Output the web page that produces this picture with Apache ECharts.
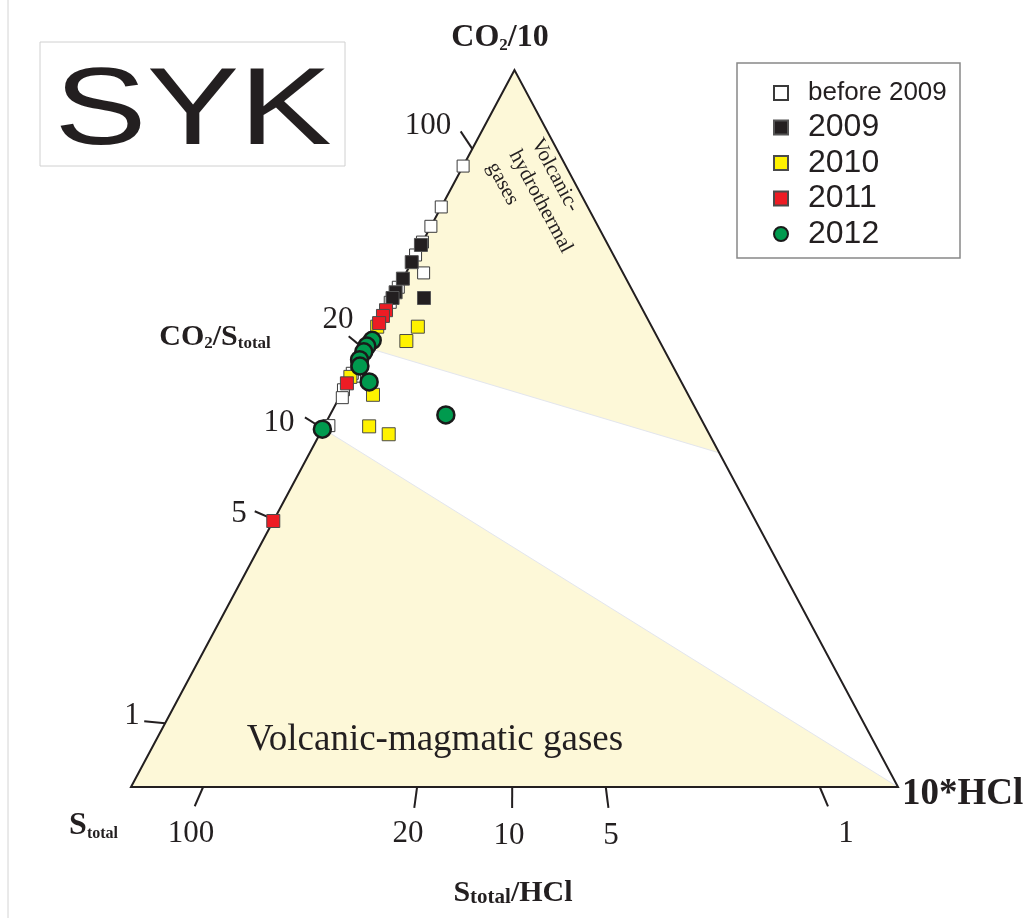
<!DOCTYPE html>
<html>
<head>
<meta charset="utf-8">
<title>SYK ternary diagram</title>
<script src="https://cdn.jsdelivr.net/npm/echarts@6/dist/echarts.min.js"></script>
<style>
  html, body { margin: 0; padding: 0; background: #fff; }
  #chart { width: 1030px; height: 918px; }
</style>
</head>
<body>
<div id="chart"></div>
<script>
// compositions, [CO2/10, Stotal, 10*HCl] in %
const before2009 = [
  [86.6, 13.4, 0], [80.9, 19.1, 0], [78.2, 21.8, 0], [76.0, 24.0, 0], [74.2, 25.8, 0],
  [71.7, 26.0, 2.3], [69.7, 30.3, 0], [67.6, 32.4, 0], [57.3, 42.2, 0.5], [57.7, 42.3, 0],
  [55.4, 44.6, 0], [54.3, 45.3, 0.4], [50.4, 49.0, 0.6]
];
const year2009 = [
  [75.6, 24.4, 0], [73.2, 26.8, 0], [70.9, 29.1, 0], [69.0, 31.0, 0], [68.2, 31.8, 0],
  [68.2, 27.7, 4.1], [59.0, 41.0, 0]
];
const year2010 = [
  [64.2, 35.8, 0], [64.2, 30.5, 5.3], [62.2, 33.0, 4.8], [57.2, 42.8, 0],
  [54.7, 41.1, 4.2], [50.3, 43.8, 5.9], [49.2, 41.8, 9.0]
];
const year2011 = [
  [66.5, 33.5, 0], [65.7, 34.3, 0], [64.7, 35.3, 0], [56.3, 43.7, 0], [37.1, 62.9, 0]
];
const year2012 = [
  [62.3, 37.4, 0.3], [61.5, 38.5, 0], [60.7, 39.3, 0], [59.6, 40.4, 0], [58.7, 40.8, 0.5],
  [56.5, 40.7, 2.8], [51.9, 33.0, 15.1], [49.9, 50.1, 0]
];

// ratio ticks: CO2/Stotal along the left edge, Stotal/HCl along the base
const leftTickLabels = ['100', '20', '10', '5', '1'];
const leftTickCO2 = [89.0, 61.0, 50.0, 37.3, 8.9];
const baseTickLabels = ['100', '20', '10', '5', '1'];
const baseTickHCl = [9.4, 37.3, 49.7, 61.9, 89.8];

// fields
const hydrothermalField = [[100, 0, 0], [61.3, 38.7, 0], [46.6, 0, 53.4]];
const magmaticField = [[50, 50, 0], [0, 100, 0], [0, 0, 100]];
const triangle = [[100, 0, 0], [0, 100, 0], [0, 0, 100]];

const ink = '#231f20';
const serif = 'Liberation Serif';

function toXY(p) {
  const s = p[0] + p[1] + p[2];
  const a = p[0] / s, c = p[2] / s;
  return [c + a / 2, a];
}

const fields = [hydrothermalField, magmaticField];

// tick data: edge point + opposite vertex (tick runs away from it)
const tickData = [];
leftTickCO2.forEach(function (a) {
  const p = toXY([a, 100 - a, 0]);
  const v = toXY([0, 0, 100]);
  tickData.push([p[0], p[1], v[0], v[1]]);
});
baseTickHCl.forEach(function (c) {
  const p = toXY([0, 100 - c, c]);
  const v = toXY([100, 0, 0]);
  tickData.push([p[0], p[1], v[0], v[1]]);
});

function txt(x, y, text, style) {
  return {
    type: 'text', x: x, y: y, z: 100,
    style: Object.assign({ text: text, fill: ink, align: 'center', verticalAlign: 'middle' }, style)
  };
}

const tickFont = { fontFamily: serif, fontSize: 31 };
const titleRich = function (big, small) {
  return {
    a: { fontFamily: serif, fontWeight: 'bold', fontSize: big, lineHeight: big, fill: ink },
    s: { fontFamily: serif, fontWeight: 'bold', fontSize: small, lineHeight: small, verticalAlign: 'bottom', fill: ink }
  };
};

const chart = echarts.init(document.getElementById('chart'));

chart.setOption({
  animation: false,
  backgroundColor: '#fff',
  textStyle: { fontFamily: serif },
  grid: { left: 131, right: 132, top: 70, bottom: 131 },
  xAxis: { type: 'value', min: 0, max: 1, show: false },
  yAxis: { type: 'value', min: 0, max: 1, show: false },
  legend: {
    orient: 'vertical',
    left: 768,
    top: 73,
    itemWidth: 14,
    itemHeight: 14,
    itemGap: 3.5,
    selectedMode: false,
    textStyle: { fontFamily: 'Liberation Sans', fontSize: 32, lineHeight: 30, color: ink, padding: [0, 0, 0, 15] },
    data: [
      { name: 'before 2009', textStyle: { fontSize: 26 } },
      '2009', '2010', '2011', '2012'
    ]
  },
  series: [
    {
      type: 'custom',
      name: 'fields',
      clip: false,
      silent: true,
      z: 1,
      data: [0, 1],
      renderItem: function (params, api) {
        const pts = fields[params.dataIndex].map(function (p) { return api.coord(toXY(p)); });
        return {
          type: 'polygon',
          shape: { points: pts },
          style: { fill: '#fdf8d8', stroke: '#e3e6ee', lineWidth: 1 }
        };
      }
    },
    {
      type: 'custom',
      name: 'frame',
      clip: false,
      silent: true,
      z: 3,
      data: [0],
      renderItem: function (params, api) {
        const pts = triangle.map(function (p) { return api.coord(toXY(p)); });
        return {
          type: 'polygon',
          shape: { points: pts },
          style: { fill: 'none', stroke: ink, lineWidth: 2 }
        };
      }
    },
    {
      type: 'custom',
      name: 'ticks',
      clip: false,
      silent: true,
      z: 3,
      data: tickData,
      renderItem: function (params, api) {
        const p = api.coord([api.value(0), api.value(1)]);
        const v = api.coord([api.value(2), api.value(3)]);
        const dx = p[0] - v[0], dy = p[1] - v[1];
        const len = Math.sqrt(dx * dx + dy * dy);
        return {
          type: 'line',
          shape: { x1: p[0], y1: p[1], x2: p[0] + dx / len * 21, y2: p[1] + dy / len * 21 },
          style: { stroke: ink, lineWidth: 2 }
        };
      }
    },
    {
      type: 'scatter', name: 'before 2009', z: 4, symbol: 'rect', symbolSize: 12,
      itemStyle: { color: '#fff', borderColor: '#3a3a3a', borderWidth: 1, opacity: 1 },
      data: before2009.map(toXY)
    },
    {
      type: 'scatter', name: '2009', z: 4, symbol: 'rect', symbolSize: 13,
      itemStyle: { color: ink, borderColor: '#555', borderWidth: 1, opacity: 1 },
      data: year2009.map(toXY)
    },
    {
      type: 'scatter', name: '2010', z: 4, symbol: 'rect', symbolSize: 13,
      itemStyle: { color: '#fff200', borderColor: '#4a4a4a', borderWidth: 1, opacity: 1 },
      data: year2010.map(toXY)
    },
    {
      type: 'scatter', name: '2011', z: 4, symbol: 'rect', symbolSize: 13,
      itemStyle: { color: '#ed1c24', borderColor: '#4a4a4a', borderWidth: 1, opacity: 1 },
      data: year2011.map(toXY)
    },
    {
      type: 'scatter', name: '2012', z: 4, symbol: 'circle', symbolSize: 17,
      itemStyle: { color: '#009a4e', borderColor: '#1a1a1a', borderWidth: 2.5, opacity: 1 },
      data: year2012.map(toXY)
    }
  ],
  graphic: [
    { type: 'line', z: 100, shape: { x1: 8, y1: 0, x2: 8, y2: 918 }, style: { stroke: '#d4d4d4', lineWidth: 1 } },
    { type: 'rect', z: 100, shape: { x: 40, y: 42, width: 305, height: 124 }, style: { fill: 'none', stroke: '#d0d0d0', lineWidth: 1 } },
    { type: 'rect', z: 100, shape: { x: 737, y: 63, width: 223, height: 195 }, style: { fill: 'none', stroke: '#888', lineWidth: 1.5 } },
    {
      type: 'text', x: 193, y: 114, z: 100, scaleX: 1.26,
      style: { text: 'SYK', fill: ink, fontFamily: 'Liberation Sans', fontSize: 110, align: 'center', verticalAlign: 'middle' }
    },
    txt(500, 38, '{a|CO}{s|2}{a|/10}', { rich: titleRich(32, 17) }),
    txt(215, 337, '{a|CO}{s|2}{a|/S}{s|total}', { rich: titleRich(30, 17) }),
    txt(118, 826, '{a|S}{s|total}', { align: 'right', rich: titleRich(32, 16) }),
    txt(513, 893, '{a|S}{s|total}{a|/HCl}', { rich: titleRich(30, 21) }),
    txt(902, 794, '{a|10*HCl}', { align: 'left', rich: titleRich(37, 20) }),
    txt(428, 126, leftTickLabels[0], tickFont),
    txt(338, 320, leftTickLabels[1], tickFont),
    txt(279, 423, leftTickLabels[2], tickFont),
    txt(239, 514, leftTickLabels[3], tickFont),
    txt(132, 716, leftTickLabels[4], tickFont),
    txt(191, 834, baseTickLabels[0], tickFont),
    txt(408, 834, baseTickLabels[1], tickFont),
    txt(509, 836, baseTickLabels[2], tickFont),
    txt(611, 836, baseTickLabels[3], tickFont),
    txt(846, 834, baseTickLabels[4], tickFont),
    txt(435, 740, 'Volcanic-magmatic gases', { fontFamily: serif, fontSize: 37 }),
    {
      type: 'text', x: 547, y: 134, z: 100, rotation: -1.078,
      style: {
        text: 'Volcanic-\nhydrothermal\ngases', fill: ink, fontFamily: serif,
        fontSize: 21, lineHeight: 25, align: 'left', verticalAlign: 'top'
      }
    }
  ]
});
</script>
</body>
</html>
